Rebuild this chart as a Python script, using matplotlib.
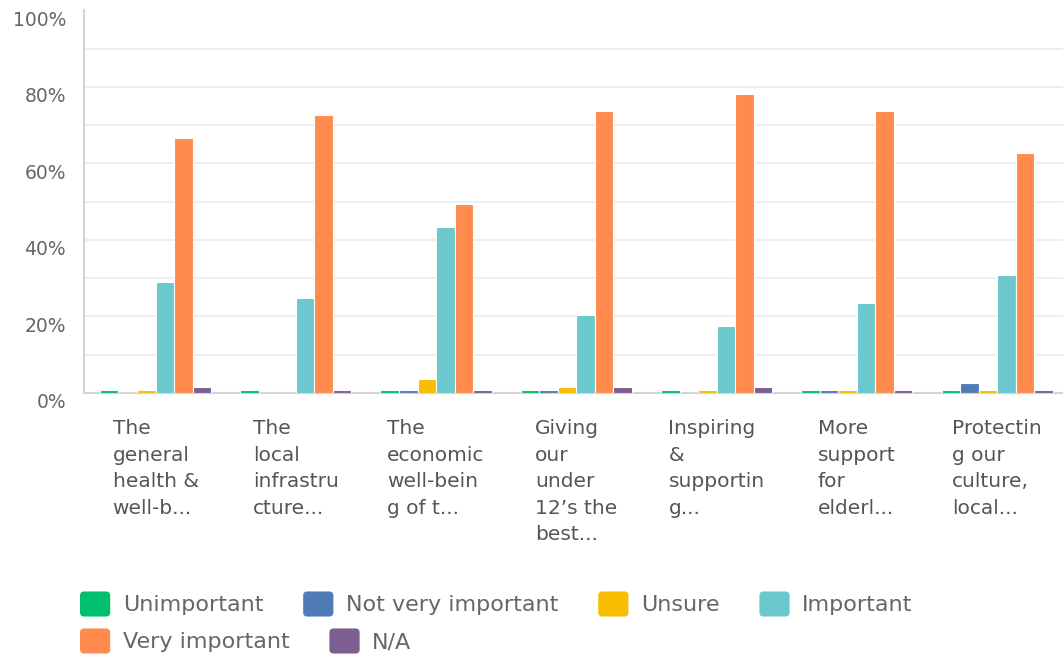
import matplotlib
matplotlib.use("Agg")
import matplotlib.pyplot as plt
import numpy as np
from matplotlib.patches import FancyBboxPatch
from matplotlib.legend_handler import HandlerPatch
from matplotlib.transforms import ScaledTranslation

plt.rcParams['font.family'] = ['DejaVu Sans']

# data (percent of respondents)
categories = [
    "The\ngeneral\nhealth &\nwell-b...",
    "The\nlocal\ninfrastru\ncture...",
    "The\neconomic\nwell-bein\ng of t...",
    "Giving\nour\nunder\n12\u2019s the\nbest...",
    "Inspiring\n&\nsupportin\ng...",
    "More\nsupport\nfor\nelderl...",
    "Protectin\ng our\nculture,\nlocal...",
]
series_names = ["Unimportant", "Not very important", "Unsure",
                "Important", "Very important", "N/A"]
unimportant = [0.7, 0.7, 0.7, 0.7, 0.7, 0.7, 0.7]
not_very = [0, 0, 0.7, 0.7, 0, 0.7, 2.6]
unsure = [0.7, 0, 3.6, 1.6, 0.7, 0.7, 0.7]
important = [29.0, 24.8, 43.3, 20.4, 17.4, 23.4, 30.9]
very_important = [66.7, 72.8, 49.3, 73.7, 78.1, 73.7, 62.8]
na = [1.6, 0.7, 0.7, 1.6, 1.6, 0.7, 0.7]
series = [unimportant, not_very, unsure, important, very_important, na]
colors = ["#00BF6F", "#507CB6", "#F9BE00", "#6BC8CD", "#FF8B4F", "#7D5E90"]


class RoundHandler(HandlerPatch):
    def create_artists(self, legend, orig_handle, xdescent, ydescent,
                       width, height, fontsize, trans):
        p = FancyBboxPatch((-xdescent, -ydescent), width, height,
                           boxstyle="round,pad=0,rounding_size=3",
                           facecolor=orig_handle.get_facecolor(),
                           edgecolor="none", transform=trans)
        return [p]


fig = plt.figure(figsize=(10.63, 6.56), dpi=100)
ax = fig.add_axes([0.079, 0.401, 0.921, 0.583])

x = np.arange(len(categories))
w = 0.132
handles = []
for i, (vals, c) in enumerate(zip(series, colors)):
    b = ax.bar(x + (i - 2.5) * w, vals, width=w, color=c,
               edgecolor="white", linewidth=0.8, zorder=3)
    handles.append(b.patches[0])

ax.set_xlim(-0.51, 6.47)
ax.set_ylim(0, 100)
ax.set_yticks(np.arange(0, 101, 20))
ax.set_yticklabels([f"{v}%" for v in range(0, 101, 20)])
ax.yaxis.set_minor_locator(matplotlib.ticker.FixedLocator(np.arange(10, 100, 10)))
ax.yaxis.remove_overlapping_locs = False
ax.grid(False)
ax.grid(True, which="minor", axis="y", color="#eeeeee", linewidth=1.5, zorder=0)
ax.tick_params(axis="y", which="both", length=0, pad=13, labelsize=13.5,
               labelcolor="#666666")
ax.tick_params(axis="x", length=0, pad=19, labelsize=14.5, labelcolor="#555555")

ax.set_xticks(x)
ax.set_xticklabels(categories, ha="center", multialignment="left", linespacing=1.5)
off_y = ScaledTranslation(0, -0.08, fig.dpi_scale_trans)
for lab in ax.get_yticklabels():
    lab.set_transform(lab.get_transform() + off_y)

for s in ["top", "right"]:
    ax.spines[s].set_visible(False)
for s in ["left", "bottom"]:
    ax.spines[s].set_color("#d4d4d4")
    ax.spines[s].set_linewidth(1.5)

leg_kw = dict(frameon=False, fontsize=16, handlelength=1.36, handleheight=1.36,
              handletextpad=0.56, columnspacing=1.8, labelcolor="#666666",
              handler_map={type(handles[0]): RoundHandler()},
              borderpad=0, borderaxespad=0)
leg1 = fig.legend(handles[:4], series_names[:4], ncol=4,
                  loc="center left", bbox_to_anchor=(80 / 1063, 1 - 604 / 656), **leg_kw)
leg2 = fig.legend(handles[4:], series_names[4:], ncol=2,
                  loc="center left", bbox_to_anchor=(80 / 1063, 1 - 641 / 656), **leg_kw)

fig.savefig("out.png", dpi=100)
